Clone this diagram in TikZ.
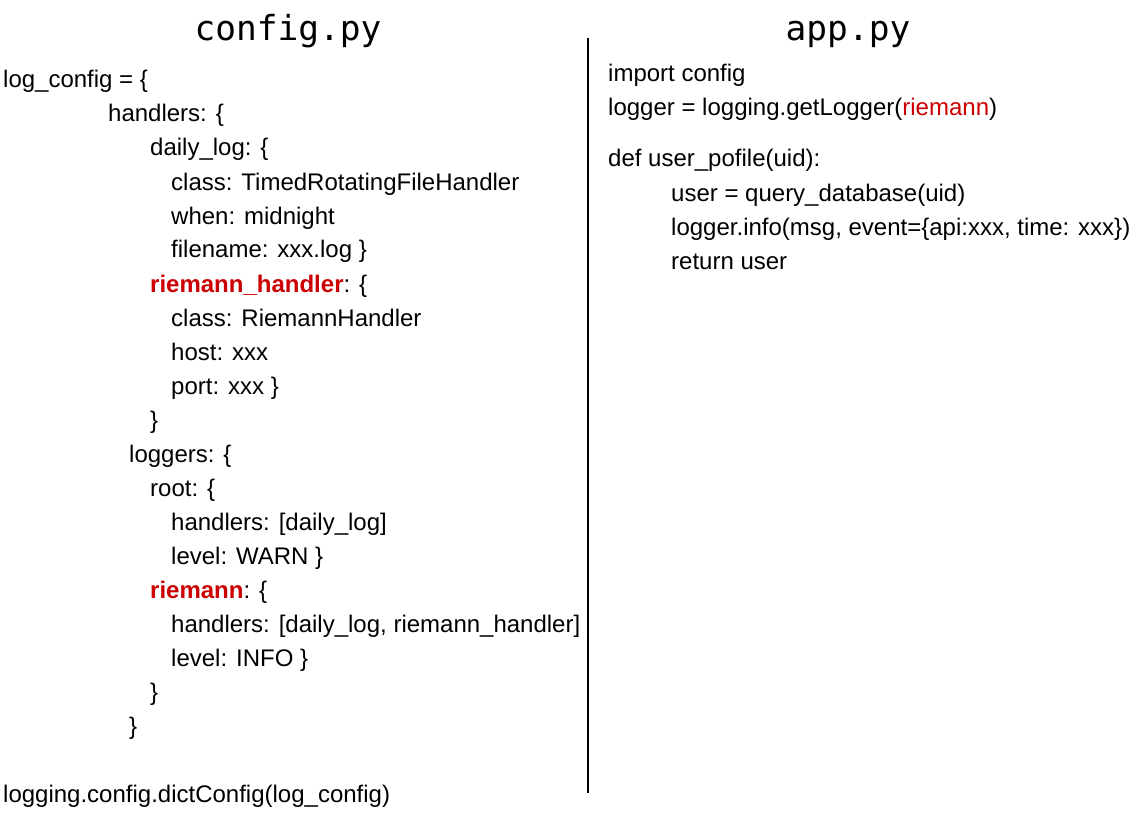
\documentclass[tikz,border=0pt]{standalone}
\usepackage{fontspec}
\setmainfont{Liberation Sans}
\newfontfamily\titlefont{DejaVu Sans Mono}
\definecolor{rd}{RGB}{204,0,0}
\begin{document}
\begin{tikzpicture}[x=1pt,y=-1pt,
  code/.style={anchor=base west, inner sep=0pt, font=\fontsize{24}{28}\selectfont},
  ttl/.style={anchor=base, inner sep=0pt, font=\titlefont\fontsize{34.5}{40}\selectfont},
  hl/.style={text=rd}]
\useasboundingbox (0,0) rectangle (1144,824);
\node[ttl] (t1) at (288,41) {config.py};
\node[ttl] (t2) at (848,41) {app.py};
\draw[line width=2pt] (588,38) coordinate (d1) -- (588,793) coordinate (d2);
% left column
\node[code] (l0) at (3,88) {log\_config = \{};
\node[code] (l1) at (108,122) {handlers: \{};
\node[code] (l2) at (150,156) {daily\_log: \{};
\node[code] (l3) at (171,190) {class: TimedRotatingFileHandler};
\node[code] (l4) at (171,224) {when: midnight};
\node[code] (l5) at (171,258) {filename: xxx.log \}};
\node[code] (l6) at (150,292) {\textcolor{rd}{\bfseries riemann\_handler}: \{};
\node[code] (l7) at (171,326) {class: RiemannHandler};
\node[code] (l8) at (171,360) {host: xxx};
\node[code] (l9) at (171,394) {port: xxx \}};
\node[code] (l10) at (150,428) {\}};
\node[code] (l11) at (129,462) {loggers: \{};
\node[code] (l12) at (150,496) {root: \{};
\node[code] (l13) at (171,530) {handlers: [daily\_log]};
\node[code] (l14) at (171,564) {level: WARN \}};
\node[code] (l15) at (150,598) {\textcolor{rd}{\bfseries riemann}: \{};
\node[code] (l16) at (171,632) {handlers: [daily\_log, riemann\_handler]};
\node[code] (l17) at (171,666) {level: INFO \}};
\node[code] (l18) at (150,700) {\}};
\node[code] (l19) at (129,734) {\}};
\node[code] (l20) at (3,802) {logging.config.dictConfig(log\_config)};
% right column
\node[code] (r0) at (608,82) {import config};
\node[code] (r1) at (608,116) {logger = logging.getLogger(\textcolor{rd}{riemann})};
\node[code] (r2) at (608,167) {def user\_pofile(uid):};
\node[code] (r3) at (671,201) {user = query\_database(uid)};
\node[code] (r4) at (671,235) {logger.info(msg, event=\{api:xxx, time: xxx\})};
\node[code] (r5) at (671,269) {return user};
\end{tikzpicture}
\end{document}
